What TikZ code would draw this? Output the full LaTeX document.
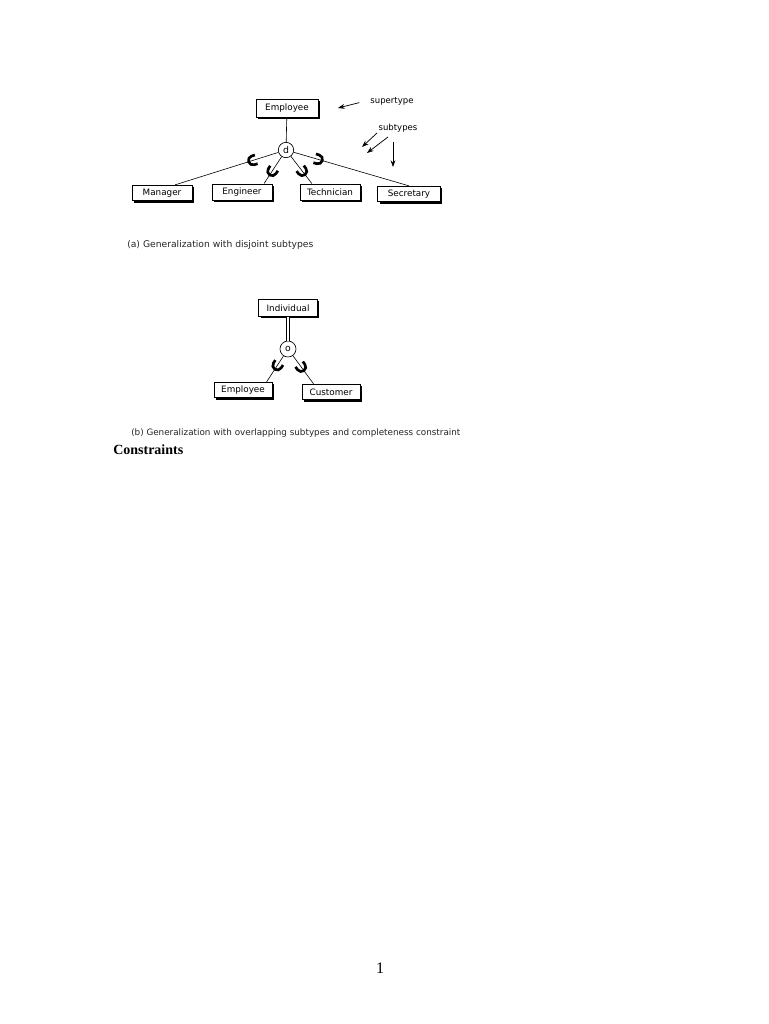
\documentclass[tikz,border=0pt]{standalone}
\usepackage{fontspec}
\setmainfont{Liberation Serif}
\newfontfamily\diagfont{DejaVu Sans}
\usetikzlibrary{
    arrows.meta,
    calc,
    shadows,
    decorations.markings
}

\tikzset{
  entity/.style={draw, line width=0.7pt, fill=white, inner sep=0pt,
    minimum width=45pt, minimum height=11.5pt,
    font=\diagfont\fontsize{6.6}{7}\selectfont,
    drop shadow={shadow xshift=1.4pt, shadow yshift=-1.4pt, opacity=1, fill=black}},
  gcircle/.style={draw, circle, fill=white, line width=0.5pt, inner sep=0pt,
    minimum size=11.5pt, font=\diagfont\fontsize{7}{7}\selectfont},
  link/.style={line width=0.45pt},
  subset mark/.style={postaction={decorate, decoration={markings,
    mark=at position #1 with {\draw[line width=2pt]
      (-2.6pt,3.4pt) -- (0pt,3.4pt) arc[start angle=90, end angle=-90, radius=3.4pt]
      -- (-2.6pt,-3.4pt);}}}},
  note/.style={font=\diagfont\fontsize{6.4}{7}\selectfont},
  caption/.style={anchor=west, inner sep=0pt, text=black!85},
  pointer/.style={-{Stealth[length=5pt,width=3.6pt]}, line width=0.55pt}
}

\begin{document}
\begin{tikzpicture}[x=0.75pt, y=-0.75pt]
\useasboundingbox[fill=white] (0,0) rectangle (768,1024);

% (a) disjoint subtypes
\node[entity, minimum width=46.5pt, minimum height=13.5pt] (employee) at (287,108) {Employee};
\node[gcircle] (d) at (286,150) {d};
\node[entity] (manager) at (162,193) {Manager};
\node[entity, minimum height=12pt] (engineer) at (242,192) {Engineer};
\node[entity, minimum height=12pt] (technician) at (330,192) {Technician};
\node[entity, minimum width=47pt] (secretary) at (409,194) {Secretary};

\draw[link] (employee) -- (d);
\draw[link, subset mark=20pt] (d) -- (manager.32);
\draw[link, subset mark=13pt] (d) -- (engineer.21);
\draw[link, subset mark=14pt] (d) -- (technician.155);
\draw[link, subset mark=19pt] (d) -- (secretary.north);

\node[note] (supertype) at (392,101) {supertype};
\coordinate (superTip) at (338,108);
\draw[pointer, shorten <=5pt] (supertype.west) -- (superTip);

\node[note] (subtypes) at (398,128) {subtypes};
\coordinate (subStartA) at (377,133);
\coordinate (subStartB) at (388,137);
\coordinate (subTipA) at (362,147);
\coordinate (subTipB) at (367,153);
\coordinate (subTipC) at (393,167);
\draw[pointer] (subStartA) -- (subTipA);
\draw[pointer] (subStartB) -- (subTipB);
\draw[pointer] (subtypes.south -| subTipC) ++(0,5) -- (subTipC);

\node[caption, font=\diagfont\fontsize{6.9}{7}\selectfont] (captionA) at (127,245) {(a) Generalization with disjoint subtypes};

% (b) overlapping subtypes, total participation
\node[entity, minimum width=44pt, minimum height=12.8pt] (individual) at (288,308) {Individual};
\node[gcircle, minimum size=12pt] (o) at (288,349) {o};
\node[entity, minimum width=43.5pt] (employeeB) at (243,390) {Employee};
\node[entity, minimum width=43.5pt] (customer) at (331,392) {Customer};

\draw[line width=0.5pt, double=white, double distance=1.4pt] (individual.south) -- (o.north);
\draw[link, subset mark=8.5pt] (o) -- (employeeB.19);
\draw[link, subset mark=10.5pt] (o) -- (customer.155);

\node[caption, font=\diagfont\fontsize{6.6}{7}\selectfont] (captionB) at (131,433) {(b) Generalization with overlapping subtypes and completeness constraint};

\node[anchor=west, inner sep=0pt, font=\bfseries\fontsize{10.5}{12}\selectfont] (constraints) at (113,450) {Constraints};
\node[font=\fontsize{12}{14}\selectfont] (pagenum) at (380,968) {1};
\end{tikzpicture}
\end{document}
